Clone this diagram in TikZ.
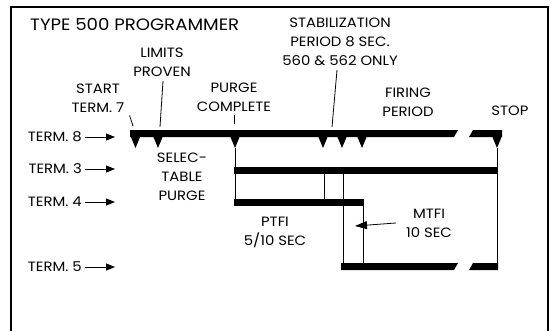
\documentclass[tikz,border=0pt]{standalone}
\usepackage{fontspec}
\setmainfont{Poppins}[FakeStretch=1.1]
\usetikzlibrary{arrows.meta,positioning}

\begin{document}
\begin{tikzpicture}[x=1pt,y=-1pt,>={Triangle[length=9pt,width=7pt]},
  lbl/.style={font=\fontsize{13.5}{19}\selectfont,align=center,inner sep=0pt},
  term/.style={lbl,anchor=east,inner xsep=3pt},
  thin/.style={line width=.8pt}]
\useasboundingbox(0,0)rectangle(551,330);
\draw[line width=2pt](11,331)--(11,7)--(548,7)--(548,331);
\node[lbl,anchor=west,font=\fontsize{16.5}{20}\selectfont](title)at(30,24){TYPE 500 PROGRAMMER};
\fill(130,130)--(458,130)--(454,137)--(130,137)--cycle;
\fill(473,130)--(502,130)--(502,137)--(469,137)--cycle;
\foreach \x in {135.5,158,235,323,342,362,497}{
\fill(\x-5,136)--(\x+5,136)--(\x,148)--cycle;}
\fill(234,167)rectangle(498,174);
\fill(234,199)rectangle(364,206);
\fill(341,263)--(458,263)--(454,270)--(341,270)--cycle;
\fill(473,263)--(498,263)--(498,270)--(469,270)--cycle;
\draw[thin](235,148)--(235,199);
\draw[thin](324,174)--(324,199);
\draw[thin](343,174)--(343,263);
\draw[thin](363,206)--(363,263);
\draw[thin](497,148)--(497,263);
\foreach \n/\y in {8/137,3/169,4/202,5/267}{
\node[term](t\n)at(85,\y){TERM. \n};
\coordinate(b\n)at(115,\y);
\draw[thin,->](t\n.east)--(b\n);}
\node[lbl](start)at(98,98){START\\TERM. 7};
\node[lbl](limits)at(162,62.5){LIMITS\\PROVEN};
\node[lbl](purge)at(234,97.5){PURGE\\COMPLETE};
\node[lbl](selpurge)at(182,177){SELEC-\\TABLE\\PURGE};
\node[lbl](stab)at(340,42){STABILIZATION\\PERIOD 8 SEC.\\560 \& 562 ONLY};
\node[lbl](firing)at(408,102){FIRING\\PERIOD};
\node[lbl](stop)at(510,111){STOP};
\node[lbl](ptfi)at(275,232.5){PTFI\\5/10 SEC};
\node[lbl](mtfi)at(429,223){MTFI\\10 SEC};
\coordinate(c7)at(133,126);
\coordinate(cl)at(160,127);
\coordinate(cp)at(234,124);
\coordinate(cs)at(332,127);
\coordinate(cm)at(355,226);
\draw[thin]([shift={(5,3)}]start.south east)--(c7);
\draw[thin]([shift={(1,4)}]limits.south)--(cl);
\draw[thin]([yshift=-3pt]purge.south)--(cp);
\draw[thin]([shift={(-3,4)}]stab.south)--(cs);
\draw[thin,->,>={Triangle[length=12pt,width=8pt]}]([xshift=-10pt]mtfi.west)--(cm);
\end{tikzpicture}
\end{document}
